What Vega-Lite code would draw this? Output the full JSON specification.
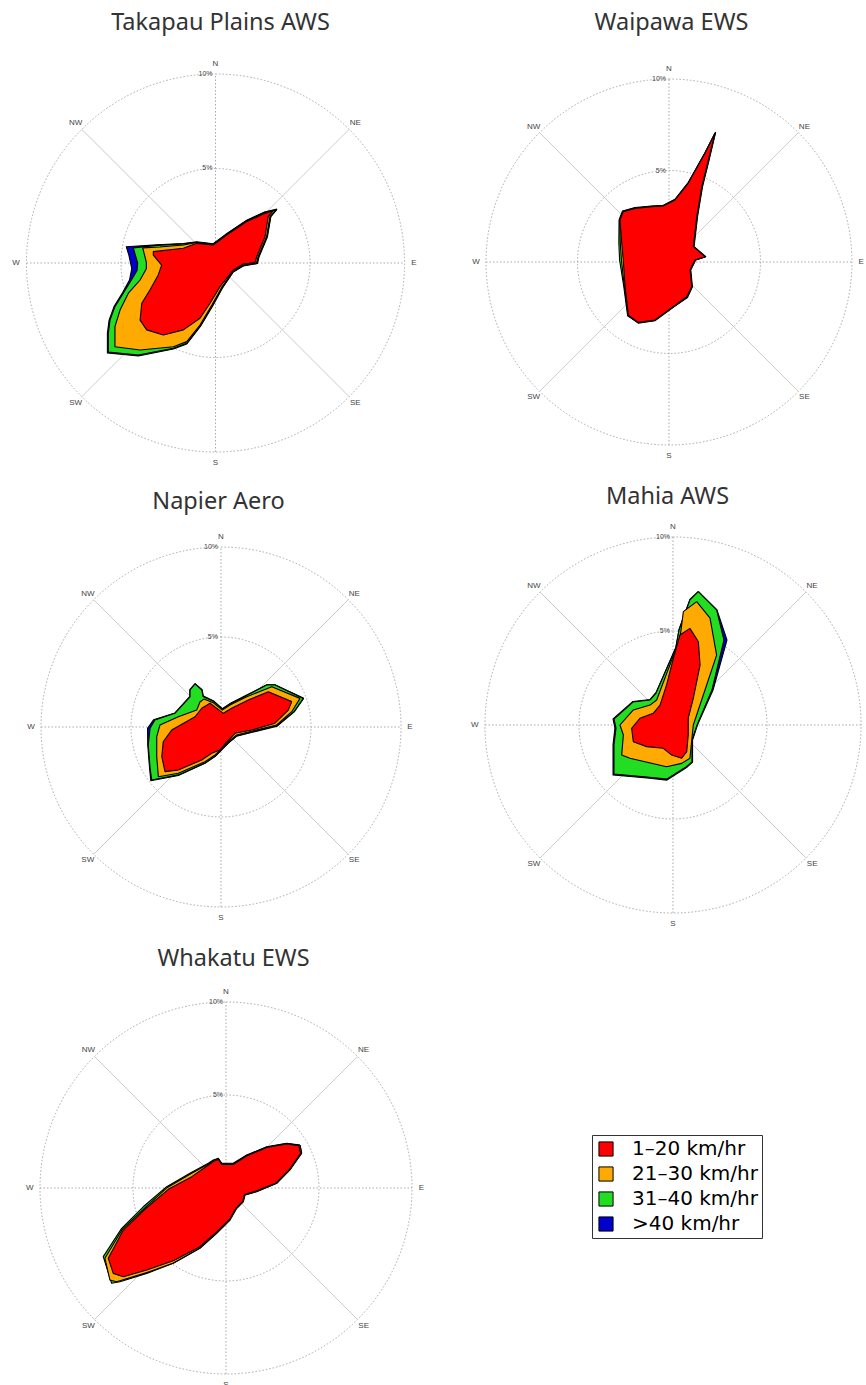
{
"$schema": "https://vega.github.io/schema/vega-lite/v6.json",
"padding": 0,
"background": "white",
"config": {
  "view": {"stroke": null},
  "title": {"font": "Noto Sans", "fontSize": 23.5, "fontWeight": "normal", "color": "#333333", "anchor": "middle", "frame": "group"},
  "legend": {"orient": "none", "legendX": 592, "legendY": 1135, "title": null, "symbolType": "square", "symbolSize": 200, "symbolStrokeColor": "black", "symbolStrokeWidth": 1, "symbolOpacity": 1, "labelFont": "DejaVu Sans", "labelFontSize": 20, "labelColor": "black", "strokeColor": "#333333", "fillColor": "white", "padding": 4, "rowPadding": 5, "labelOffset": 16}
},
"datasets": {
  "ring": [{"x": 0, "y": 0}],
  "axes": [{"x": -10, "y": 0, "x2": 10, "y2": 0}, {"x": 0, "y": -10, "x2": 0, "y2": 10}],
  "diag": [{"x": -7.071, "y": -7.071, "x2": 7.071, "y2": 7.071}, {"x": -7.071, "y": 7.071, "x2": 7.071, "y2": -7.071}],
  "dirs": [{"label": "N", "x": 0, "y": 10.55}, {"label": "NE", "x": 7.4, "y": 7.4}, {"label": "E", "x": 10.5, "y": 0}, {"label": "SE", "x": 7.4, "y": -7.4}, {"label": "S", "x": 0, "y": -10.6}, {"label": "SW", "x": -7.4, "y": -7.4}, {"label": "W", "x": -10.55, "y": 0}, {"label": "NW", "x": -7.4, "y": 7.4}],
  "pcts": [{"label": "10%", "x": 0, "y": 10}, {"label": "5%", "x": 0, "y": 5}],
  "roses": [
{"st":"T","s":">40 km/hr","i":0,"x":3.26,"y":2.85},{"st":"T","s":">40 km/hr","i":1,"x":2.93,"y":2.45},{"st":"T","s":">40 km/hr","i":2,"x":2.75,"y":1.39},{"st":"T","s":">40 km/hr","i":3,"x":2.30,"y":0.32},{"st":"T","s":">40 km/hr","i":4,"x":2.22,"y":-0.03},{"st":"T","s":">40 km/hr","i":5,"x":1.47,"y":-0.16},{"st":"T","s":">40 km/hr","i":6,"x":0.94,"y":-0.48},{"st":"T","s":">40 km/hr","i":7,"x":0.37,"y":-1.32},{"st":"T","s":">40 km/hr","i":8,"x":-0.15,"y":-2.27},{"st":"T","s":">40 km/hr","i":9,"x":-0.79,"y":-3.34},{"st":"T","s":">40 km/hr","i":10,"x":-1.52,"y":-4.28},{"st":"T","s":">40 km/hr","i":11,"x":-2.23,"y":-4.55},{"st":"T","s":">40 km/hr","i":12,"x":-4.08,"y":-4.92},{"st":"T","s":">40 km/hr","i":13,"x":-5.72,"y":-4.76},{"st":"T","s":">40 km/hr","i":14,"x":-5.72,"y":-3.72},{"st":"T","s":">40 km/hr","i":15,"x":-5.63,"y":-3.02},{"st":"T","s":">40 km/hr","i":16,"x":-5.37,"y":-2.31},{"st":"T","s":">40 km/hr","i":17,"x":-4.92,"y":-1.58},{"st":"T","s":">40 km/hr","i":18,"x":-4.55,"y":-0.90},{"st":"T","s":">40 km/hr","i":19,"x":-4.43,"y":-0.30},{"st":"T","s":">40 km/hr","i":20,"x":-4.58,"y":0.40},{"st":"T","s":">40 km/hr","i":21,"x":-4.72,"y":0.86},{"st":"T","s":">40 km/hr","i":22,"x":-3.11,"y":0.96},{"st":"T","s":">40 km/hr","i":23,"x":-1.70,"y":1.03},{"st":"T","s":">40 km/hr","i":24,"x":-0.99,"y":1.12},{"st":"T","s":">40 km/hr","i":25,"x":-0.12,"y":1.02},{"st":"T","s":">40 km/hr","i":26,"x":0.59,"y":1.55},{"st":"T","s":">40 km/hr","i":27,"x":1.65,"y":2.26},{"st":"T","s":">40 km/hr","i":28,"x":2.60,"y":2.70},{"st":"T","s":">40 km/hr","i":29,"x":3.26,"y":2.85},
{"st":"T","s":"31–40 km/hr","i":0,"x":3.24,"y":2.83},{"st":"T","s":"31–40 km/hr","i":1,"x":2.91,"y":2.45},{"st":"T","s":"31–40 km/hr","i":2,"x":2.73,"y":1.39},{"st":"T","s":"31–40 km/hr","i":3,"x":2.28,"y":0.32},{"st":"T","s":"31–40 km/hr","i":4,"x":2.20,"y":-0.02},{"st":"T","s":"31–40 km/hr","i":5,"x":1.47,"y":-0.14},{"st":"T","s":"31–40 km/hr","i":6,"x":0.94,"y":-0.46},{"st":"T","s":"31–40 km/hr","i":7,"x":0.36,"y":-1.30},{"st":"T","s":"31–40 km/hr","i":8,"x":-0.16,"y":-2.25},{"st":"T","s":"31–40 km/hr","i":9,"x":-0.80,"y":-3.32},{"st":"T","s":"31–40 km/hr","i":10,"x":-1.52,"y":-4.25},{"st":"T","s":"31–40 km/hr","i":11,"x":-2.23,"y":-4.51},{"st":"T","s":"31–40 km/hr","i":12,"x":-4.08,"y":-4.87},{"st":"T","s":"31–40 km/hr","i":13,"x":-5.67,"y":-4.71},{"st":"T","s":"31–40 km/hr","i":14,"x":-5.67,"y":-3.72},{"st":"T","s":"31–40 km/hr","i":15,"x":-5.58,"y":-3.02},{"st":"T","s":"31–40 km/hr","i":16,"x":-5.32,"y":-2.31},{"st":"T","s":"31–40 km/hr","i":17,"x":-4.88,"y":-1.60},{"st":"T","s":"31–40 km/hr","i":18,"x":-4.45,"y":-0.90},{"st":"T","s":"31–40 km/hr","i":19,"x":-4.15,"y":-0.40},{"st":"T","s":"31–40 km/hr","i":20,"x":-4.12,"y":0.00},{"st":"T","s":"31–40 km/hr","i":21,"x":-4.35,"y":0.80},{"st":"T","s":"31–40 km/hr","i":22,"x":-3.11,"y":0.93},{"st":"T","s":"31–40 km/hr","i":23,"x":-1.70,"y":1.01},{"st":"T","s":"31–40 km/hr","i":24,"x":-0.99,"y":1.10},{"st":"T","s":"31–40 km/hr","i":25,"x":-0.12,"y":1.00},{"st":"T","s":"31–40 km/hr","i":26,"x":0.59,"y":1.53},{"st":"T","s":"31–40 km/hr","i":27,"x":1.65,"y":2.24},{"st":"T","s":"31–40 km/hr","i":28,"x":2.59,"y":2.68},{"st":"T","s":"31–40 km/hr","i":29,"x":3.24,"y":2.83},
{"st":"T","s":"21–30 km/hr","i":0,"x":3.20,"y":2.80},{"st":"T","s":"21–30 km/hr","i":1,"x":2.88,"y":2.45},{"st":"T","s":"21–30 km/hr","i":2,"x":2.70,"y":1.39},{"st":"T","s":"21–30 km/hr","i":3,"x":2.25,"y":0.32},{"st":"T","s":"21–30 km/hr","i":4,"x":2.17,"y":0.00},{"st":"T","s":"21–30 km/hr","i":5,"x":1.47,"y":-0.11},{"st":"T","s":"21–30 km/hr","i":6,"x":0.94,"y":-0.42},{"st":"T","s":"21–30 km/hr","i":7,"x":0.34,"y":-1.27},{"st":"T","s":"21–30 km/hr","i":8,"x":-0.19,"y":-2.22},{"st":"T","s":"21–30 km/hr","i":9,"x":-0.82,"y":-3.28},{"st":"T","s":"21–30 km/hr","i":10,"x":-1.52,"y":-4.16},{"st":"T","s":"21–30 km/hr","i":11,"x":-2.23,"y":-4.43},{"st":"T","s":"21–30 km/hr","i":12,"x":-3.99,"y":-4.60},{"st":"T","s":"21–30 km/hr","i":13,"x":-5.32,"y":-4.43},{"st":"T","s":"21–30 km/hr","i":14,"x":-5.32,"y":-3.37},{"st":"T","s":"21–30 km/hr","i":15,"x":-5.05,"y":-2.49},{"st":"T","s":"21–30 km/hr","i":16,"x":-4.61,"y":-1.60},{"st":"T","s":"21–30 km/hr","i":17,"x":-3.99,"y":-0.90},{"st":"T","s":"21–30 km/hr","i":18,"x":-3.66,"y":-0.30},{"st":"T","s":"21–30 km/hr","i":19,"x":-3.66,"y":0.05},{"st":"T","s":"21–30 km/hr","i":20,"x":-3.85,"y":0.80},{"st":"T","s":"21–30 km/hr","i":21,"x":-2.94,"y":0.85},{"st":"T","s":"21–30 km/hr","i":22,"x":-1.70,"y":0.95},{"st":"T","s":"21–30 km/hr","i":23,"x":-0.99,"y":1.08},{"st":"T","s":"21–30 km/hr","i":24,"x":-0.12,"y":0.98},{"st":"T","s":"21–30 km/hr","i":25,"x":0.59,"y":1.51},{"st":"T","s":"21–30 km/hr","i":26,"x":1.65,"y":2.22},{"st":"T","s":"21–30 km/hr","i":27,"x":2.57,"y":2.65},{"st":"T","s":"21–30 km/hr","i":28,"x":3.20,"y":2.80},
{"st":"T","s":"1–20 km/hr","i":0,"x":3.06,"y":2.77},{"st":"T","s":"1–20 km/hr","i":1,"x":2.79,"y":2.45},{"st":"T","s":"1–20 km/hr","i":2,"x":2.62,"y":1.39},{"st":"T","s":"1–20 km/hr","i":3,"x":2.18,"y":0.33},{"st":"T","s":"1–20 km/hr","i":4,"x":2.09,"y":0.02},{"st":"T","s":"1–20 km/hr","i":5,"x":1.47,"y":-0.05},{"st":"T","s":"1–20 km/hr","i":6,"x":0.94,"y":-0.37},{"st":"T","s":"1–20 km/hr","i":7,"x":0.24,"y":-1.25},{"st":"T","s":"1–20 km/hr","i":8,"x":-0.29,"y":-2.13},{"st":"T","s":"1–20 km/hr","i":9,"x":-0.82,"y":-2.92},{"st":"T","s":"1–20 km/hr","i":10,"x":-1.70,"y":-3.54},{"st":"T","s":"1–20 km/hr","i":11,"x":-2.76,"y":-3.81},{"st":"T","s":"1–20 km/hr","i":12,"x":-3.64,"y":-3.54},{"st":"T","s":"1–20 km/hr","i":13,"x":-3.99,"y":-3.02},{"st":"T","s":"1–20 km/hr","i":14,"x":-3.90,"y":-2.13},{"st":"T","s":"1–20 km/hr","i":15,"x":-3.47,"y":-1.43},{"st":"T","s":"1–20 km/hr","i":16,"x":-3.03,"y":-0.63},{"st":"T","s":"1–20 km/hr","i":17,"x":-2.85,"y":-0.11},{"st":"T","s":"1–20 km/hr","i":18,"x":-3.29,"y":0.42},{"st":"T","s":"1–20 km/hr","i":19,"x":-3.29,"y":0.60},{"st":"T","s":"1–20 km/hr","i":20,"x":-1.70,"y":0.78},{"st":"T","s":"1–20 km/hr","i":21,"x":-0.99,"y":1.04},{"st":"T","s":"1–20 km/hr","i":22,"x":-0.12,"y":0.95},{"st":"T","s":"1–20 km/hr","i":23,"x":0.59,"y":1.48},{"st":"T","s":"1–20 km/hr","i":24,"x":1.65,"y":2.19},{"st":"T","s":"1–20 km/hr","i":25,"x":2.53,"y":2.59},{"st":"T","s":"1–20 km/hr","i":26,"x":3.06,"y":2.77},

{"st":"W","s":"31–40 km/hr","i":0,"x":2.55,"y":7.10},{"st":"W","s":"31–40 km/hr","i":1,"x":2.19,"y":5.57},{"st":"W","s":"31–40 km/hr","i":2,"x":1.83,"y":4.11},{"st":"W","s":"31–40 km/hr","i":3,"x":1.56,"y":2.48},{"st":"W","s":"31–40 km/hr","i":4,"x":1.37,"y":0.84},{"st":"W","s":"31–40 km/hr","i":5,"x":2.01,"y":0.29},{"st":"W","s":"31–40 km/hr","i":6,"x":1.46,"y":0.11},{"st":"W","s":"31–40 km/hr","i":7,"x":1.19,"y":-0.44},{"st":"W","s":"31–40 km/hr","i":8,"x":1.28,"y":-1.35},{"st":"W","s":"31–40 km/hr","i":9,"x":1.01,"y":-1.94},{"st":"W","s":"31–40 km/hr","i":10,"x":0.23,"y":-2.48},{"st":"W","s":"31–40 km/hr","i":11,"x":-0.77,"y":-3.21},{"st":"W","s":"31–40 km/hr","i":12,"x":-1.68,"y":-3.34},{"st":"W","s":"31–40 km/hr","i":13,"x":-2.26,"y":-2.94},{"st":"W","s":"31–40 km/hr","i":14,"x":-2.47,"y":-1.35},{"st":"W","s":"31–40 km/hr","i":15,"x":-2.70,"y":0.11},{"st":"W","s":"31–40 km/hr","i":16,"x":-2.74,"y":1.02},{"st":"W","s":"31–40 km/hr","i":17,"x":-2.73,"y":2.30},{"st":"W","s":"31–40 km/hr","i":18,"x":-2.54,"y":2.79},{"st":"W","s":"31–40 km/hr","i":19,"x":-1.86,"y":2.97},{"st":"W","s":"31–40 km/hr","i":20,"x":-0.95,"y":3.06},{"st":"W","s":"31–40 km/hr","i":21,"x":-0.31,"y":3.10},{"st":"W","s":"31–40 km/hr","i":22,"x":0.33,"y":3.43},{"st":"W","s":"31–40 km/hr","i":23,"x":1.05,"y":4.34},{"st":"W","s":"31–40 km/hr","i":24,"x":1.97,"y":5.98},{"st":"W","s":"31–40 km/hr","i":25,"x":2.55,"y":7.10},
{"st":"W","s":"21–30 km/hr","i":0,"x":2.53,"y":7.06},{"st":"W","s":"21–30 km/hr","i":1,"x":2.17,"y":5.57},{"st":"W","s":"21–30 km/hr","i":2,"x":1.81,"y":4.11},{"st":"W","s":"21–30 km/hr","i":3,"x":1.54,"y":2.48},{"st":"W","s":"21–30 km/hr","i":4,"x":1.35,"y":0.84},{"st":"W","s":"21–30 km/hr","i":5,"x":1.99,"y":0.29},{"st":"W","s":"21–30 km/hr","i":6,"x":1.44,"y":0.11},{"st":"W","s":"21–30 km/hr","i":7,"x":1.17,"y":-0.44},{"st":"W","s":"21–30 km/hr","i":8,"x":1.26,"y":-1.35},{"st":"W","s":"21–30 km/hr","i":9,"x":0.99,"y":-1.92},{"st":"W","s":"21–30 km/hr","i":10,"x":0.23,"y":-2.46},{"st":"W","s":"21–30 km/hr","i":11,"x":-0.77,"y":-3.19},{"st":"W","s":"21–30 km/hr","i":12,"x":-1.68,"y":-3.32},{"st":"W","s":"21–30 km/hr","i":13,"x":-2.24,"y":-2.92},{"st":"W","s":"21–30 km/hr","i":14,"x":-2.44,"y":-1.35},{"st":"W","s":"21–30 km/hr","i":15,"x":-2.60,"y":0.11},{"st":"W","s":"21–30 km/hr","i":16,"x":-2.66,"y":1.02},{"st":"W","s":"21–30 km/hr","i":17,"x":-2.70,"y":2.30},{"st":"W","s":"21–30 km/hr","i":18,"x":-2.52,"y":2.77},{"st":"W","s":"21–30 km/hr","i":19,"x":-1.86,"y":2.95},{"st":"W","s":"21–30 km/hr","i":20,"x":-0.95,"y":3.04},{"st":"W","s":"21–30 km/hr","i":21,"x":-0.31,"y":3.08},{"st":"W","s":"21–30 km/hr","i":22,"x":0.33,"y":3.41},{"st":"W","s":"21–30 km/hr","i":23,"x":1.05,"y":4.32},{"st":"W","s":"21–30 km/hr","i":24,"x":1.97,"y":5.96},{"st":"W","s":"21–30 km/hr","i":25,"x":2.53,"y":7.06},
{"st":"W","s":"1–20 km/hr","i":0,"x":2.51,"y":7.03},{"st":"W","s":"1–20 km/hr","i":1,"x":2.15,"y":5.57},{"st":"W","s":"1–20 km/hr","i":2,"x":1.79,"y":4.11},{"st":"W","s":"1–20 km/hr","i":3,"x":1.52,"y":2.48},{"st":"W","s":"1–20 km/hr","i":4,"x":1.33,"y":0.84},{"st":"W","s":"1–20 km/hr","i":5,"x":1.97,"y":0.29},{"st":"W","s":"1–20 km/hr","i":6,"x":1.42,"y":0.11},{"st":"W","s":"1–20 km/hr","i":7,"x":1.15,"y":-0.44},{"st":"W","s":"1–20 km/hr","i":8,"x":1.24,"y":-1.35},{"st":"W","s":"1–20 km/hr","i":9,"x":0.97,"y":-1.90},{"st":"W","s":"1–20 km/hr","i":10,"x":0.23,"y":-2.44},{"st":"W","s":"1–20 km/hr","i":11,"x":-0.77,"y":-3.17},{"st":"W","s":"1–20 km/hr","i":12,"x":-1.68,"y":-3.30},{"st":"W","s":"1–20 km/hr","i":13,"x":-2.22,"y":-2.90},{"st":"W","s":"1–20 km/hr","i":14,"x":-2.40,"y":-1.35},{"st":"W","s":"1–20 km/hr","i":15,"x":-2.50,"y":0.11},{"st":"W","s":"1–20 km/hr","i":16,"x":-2.58,"y":1.02},{"st":"W","s":"1–20 km/hr","i":17,"x":-2.68,"y":2.30},{"st":"W","s":"1–20 km/hr","i":18,"x":-2.50,"y":2.75},{"st":"W","s":"1–20 km/hr","i":19,"x":-1.86,"y":2.93},{"st":"W","s":"1–20 km/hr","i":20,"x":-0.95,"y":3.02},{"st":"W","s":"1–20 km/hr","i":21,"x":-0.31,"y":3.06},{"st":"W","s":"1–20 km/hr","i":22,"x":0.33,"y":3.39},{"st":"W","s":"1–20 km/hr","i":23,"x":1.05,"y":4.30},{"st":"W","s":"1–20 km/hr","i":24,"x":1.97,"y":5.94},{"st":"W","s":"1–20 km/hr","i":25,"x":2.51,"y":7.03},

{"st":"N","s":">40 km/hr","i":0,"x":4.60,"y":1.60},{"st":"N","s":">40 km/hr","i":1,"x":4.07,"y":0.84},{"st":"N","s":">40 km/hr","i":2,"x":3.12,"y":0.05},{"st":"N","s":">40 km/hr","i":3,"x":1.79,"y":-0.28},{"st":"N","s":">40 km/hr","i":4,"x":0.87,"y":-0.51},{"st":"N","s":">40 km/hr","i":5,"x":0.41,"y":-0.90},{"st":"N","s":">40 km/hr","i":6,"x":-0.33,"y":-1.64},{"st":"N","s":">40 km/hr","i":7,"x":-0.89,"y":-2.02},{"st":"N","s":">40 km/hr","i":8,"x":-2.37,"y":-2.69},{"st":"N","s":">40 km/hr","i":9,"x":-3.90,"y":-2.98},{"st":"N","s":">40 km/hr","i":10,"x":-3.97,"y":-2.28},{"st":"N","s":">40 km/hr","i":11,"x":-4.07,"y":-1.00},{"st":"N","s":">40 km/hr","i":12,"x":-4.08,"y":-0.07},{"st":"N","s":">40 km/hr","i":13,"x":-3.75,"y":0.40},{"st":"N","s":">40 km/hr","i":14,"x":-2.56,"y":0.78},{"st":"N","s":">40 km/hr","i":15,"x":-1.73,"y":1.70},{"st":"N","s":">40 km/hr","i":16,"x":-1.73,"y":2.08},{"st":"N","s":">40 km/hr","i":17,"x":-1.44,"y":2.41},{"st":"N","s":">40 km/hr","i":18,"x":-1.05,"y":2.08},{"st":"N","s":">40 km/hr","i":19,"x":-0.98,"y":1.72},{"st":"N","s":">40 km/hr","i":20,"x":-0.40,"y":1.44},{"st":"N","s":">40 km/hr","i":21,"x":0.07,"y":1.02},{"st":"N","s":">40 km/hr","i":22,"x":0.50,"y":1.30},{"st":"N","s":">40 km/hr","i":23,"x":1.40,"y":1.76},{"st":"N","s":">40 km/hr","i":24,"x":2.54,"y":2.35},{"st":"N","s":">40 km/hr","i":25,"x":3.00,"y":2.35},{"st":"N","s":">40 km/hr","i":26,"x":4.60,"y":1.60},
{"st":"N","s":"31–40 km/hr","i":0,"x":4.57,"y":1.59},{"st":"N","s":"31–40 km/hr","i":1,"x":4.05,"y":0.85},{"st":"N","s":"31–40 km/hr","i":2,"x":3.11,"y":0.07},{"st":"N","s":"31–40 km/hr","i":3,"x":1.79,"y":-0.26},{"st":"N","s":"31–40 km/hr","i":4,"x":0.87,"y":-0.49},{"st":"N","s":"31–40 km/hr","i":5,"x":0.41,"y":-0.88},{"st":"N","s":"31–40 km/hr","i":6,"x":-0.33,"y":-1.62},{"st":"N","s":"31–40 km/hr","i":7,"x":-0.89,"y":-2.00},{"st":"N","s":"31–40 km/hr","i":8,"x":-2.37,"y":-2.66},{"st":"N","s":"31–40 km/hr","i":9,"x":-3.85,"y":-2.94},{"st":"N","s":"31–40 km/hr","i":10,"x":-3.94,"y":-2.28},{"st":"N","s":"31–40 km/hr","i":11,"x":-4.04,"y":-1.00},{"st":"N","s":"31–40 km/hr","i":12,"x":-3.94,"y":-0.07},{"st":"N","s":"31–40 km/hr","i":13,"x":-3.67,"y":0.39},{"st":"N","s":"31–40 km/hr","i":14,"x":-2.56,"y":0.76},{"st":"N","s":"31–40 km/hr","i":15,"x":-1.72,"y":1.68},{"st":"N","s":"31–40 km/hr","i":16,"x":-1.72,"y":2.06},{"st":"N","s":"31–40 km/hr","i":17,"x":-1.44,"y":2.39},{"st":"N","s":"31–40 km/hr","i":18,"x":-1.07,"y":2.06},{"st":"N","s":"31–40 km/hr","i":19,"x":-1.00,"y":1.70},{"st":"N","s":"31–40 km/hr","i":20,"x":-0.40,"y":1.42},{"st":"N","s":"31–40 km/hr","i":21,"x":0.07,"y":1.00},{"st":"N","s":"31–40 km/hr","i":22,"x":0.50,"y":1.28},{"st":"N","s":"31–40 km/hr","i":23,"x":1.40,"y":1.74},{"st":"N","s":"31–40 km/hr","i":24,"x":2.54,"y":2.33},{"st":"N","s":"31–40 km/hr","i":25,"x":3.00,"y":2.33},{"st":"N","s":"31–40 km/hr","i":26,"x":4.57,"y":1.59},
{"st":"N","s":"21–30 km/hr","i":0,"x":4.39,"y":1.59},{"st":"N","s":"21–30 km/hr","i":1,"x":3.93,"y":0.85},{"st":"N","s":"21–30 km/hr","i":2,"x":3.09,"y":0.11},{"st":"N","s":"21–30 km/hr","i":3,"x":1.79,"y":-0.21},{"st":"N","s":"21–30 km/hr","i":4,"x":0.87,"y":-0.44},{"st":"N","s":"21–30 km/hr","i":5,"x":0.41,"y":-0.82},{"st":"N","s":"21–30 km/hr","i":6,"x":-0.33,"y":-1.56},{"st":"N","s":"21–30 km/hr","i":7,"x":-0.89,"y":-1.93},{"st":"N","s":"21–30 km/hr","i":8,"x":-2.37,"y":-2.57},{"st":"N","s":"21–30 km/hr","i":9,"x":-3.48,"y":-2.76},{"st":"N","s":"21–30 km/hr","i":10,"x":-3.57,"y":-1.65},{"st":"N","s":"21–30 km/hr","i":11,"x":-3.57,"y":-0.54},{"st":"N","s":"21–30 km/hr","i":12,"x":-3.39,"y":0.11},{"st":"N","s":"21–30 km/hr","i":13,"x":-2.37,"y":0.57},{"st":"N","s":"21–30 km/hr","i":14,"x":-1.35,"y":0.94},{"st":"N","s":"21–30 km/hr","i":15,"x":-1.17,"y":1.39},{"st":"N","s":"21–30 km/hr","i":16,"x":-0.95,"y":1.55},{"st":"N","s":"21–30 km/hr","i":17,"x":-0.40,"y":1.33},{"st":"N","s":"21–30 km/hr","i":18,"x":0.07,"y":0.94},{"st":"N","s":"21–30 km/hr","i":19,"x":0.50,"y":1.22},{"st":"N","s":"21–30 km/hr","i":20,"x":1.43,"y":1.68},{"st":"N","s":"21–30 km/hr","i":21,"x":2.82,"y":2.24},{"st":"N","s":"21–30 km/hr","i":22,"x":4.39,"y":1.59},
{"st":"N","s":"1–20 km/hr","i":0,"x":3.93,"y":1.41},{"st":"N","s":"1–20 km/hr","i":1,"x":3.74,"y":0.94},{"st":"N","s":"1–20 km/hr","i":2,"x":3.00,"y":0.21},{"st":"N","s":"1–20 km/hr","i":3,"x":1.71,"y":-0.17},{"st":"N","s":"1–20 km/hr","i":4,"x":0.78,"y":-0.35},{"st":"N","s":"1–20 km/hr","i":5,"x":0.32,"y":-0.82},{"st":"N","s":"1–20 km/hr","i":6,"x":-0.06,"y":-1.28},{"st":"N","s":"1–20 km/hr","i":7,"x":-0.52,"y":-1.46},{"st":"N","s":"1–20 km/hr","i":8,"x":-1.07,"y":-1.83},{"st":"N","s":"1–20 km/hr","i":9,"x":-2.37,"y":-2.39},{"st":"N","s":"1–20 km/hr","i":10,"x":-3.11,"y":-2.48},{"st":"N","s":"1–20 km/hr","i":11,"x":-3.29,"y":-1.65},{"st":"N","s":"1–20 km/hr","i":12,"x":-3.21,"y":-0.82},{"st":"N","s":"1–20 km/hr","i":13,"x":-2.74,"y":-0.17},{"st":"N","s":"1–20 km/hr","i":14,"x":-1.44,"y":0.57},{"st":"N","s":"1–20 km/hr","i":15,"x":-1.07,"y":1.04},{"st":"N","s":"1–20 km/hr","i":16,"x":-0.61,"y":1.32},{"st":"N","s":"1–20 km/hr","i":17,"x":0.13,"y":0.76},{"st":"N","s":"1–20 km/hr","i":18,"x":0.59,"y":1.04},{"st":"N","s":"1–20 km/hr","i":19,"x":1.52,"y":1.50},{"st":"N","s":"1–20 km/hr","i":20,"x":2.63,"y":1.96},{"st":"N","s":"1–20 km/hr","i":21,"x":3.93,"y":1.41},

{"st":"M","s":">40 km/hr","i":0,"x":1.35,"y":7.10},{"st":"M","s":">40 km/hr","i":1,"x":2.34,"y":6.12},{"st":"M","s":">40 km/hr","i":2,"x":2.87,"y":4.52},{"st":"M","s":">40 km/hr","i":3,"x":2.13,"y":1.86},{"st":"M","s":">40 km/hr","i":4,"x":1.30,"y":0.00},{"st":"M","s":">40 km/hr","i":5,"x":1.04,"y":-0.80},{"st":"M","s":">40 km/hr","i":6,"x":1.04,"y":-1.97},{"st":"M","s":">40 km/hr","i":7,"x":0.72,"y":-2.26},{"st":"M","s":">40 km/hr","i":8,"x":-0.32,"y":-2.93},{"st":"M","s":">40 km/hr","i":9,"x":-1.38,"y":-2.82},{"st":"M","s":">40 km/hr","i":10,"x":-3.19,"y":-2.66},{"st":"M","s":">40 km/hr","i":11,"x":-3.19,"y":-1.06},{"st":"M","s":">40 km/hr","i":12,"x":-3.09,"y":-0.16},{"st":"M","s":">40 km/hr","i":13,"x":-3.19,"y":0.32},{"st":"M","s":">40 km/hr","i":14,"x":-2.13,"y":1.25},{"st":"M","s":">40 km/hr","i":15,"x":-1.22,"y":1.36},{"st":"M","s":">40 km/hr","i":16,"x":-0.90,"y":1.73},{"st":"M","s":">40 km/hr","i":17,"x":0.15,"y":4.12},{"st":"M","s":">40 km/hr","i":18,"x":0.32,"y":5.08},{"st":"M","s":">40 km/hr","i":19,"x":0.90,"y":6.68},{"st":"M","s":">40 km/hr","i":20,"x":1.35,"y":7.10},
{"st":"M","s":"31–40 km/hr","i":0,"x":1.35,"y":7.09},{"st":"M","s":"31–40 km/hr","i":1,"x":2.32,"y":6.12},{"st":"M","s":"31–40 km/hr","i":2,"x":2.71,"y":4.52},{"st":"M","s":"31–40 km/hr","i":3,"x":2.07,"y":1.86},{"st":"M","s":"31–40 km/hr","i":4,"x":1.28,"y":0.00},{"st":"M","s":"31–40 km/hr","i":5,"x":1.01,"y":-0.80},{"st":"M","s":"31–40 km/hr","i":6,"x":1.01,"y":-1.97},{"st":"M","s":"31–40 km/hr","i":7,"x":0.69,"y":-2.23},{"st":"M","s":"31–40 km/hr","i":8,"x":-0.32,"y":-2.87},{"st":"M","s":"31–40 km/hr","i":9,"x":-1.38,"y":-2.77},{"st":"M","s":"31–40 km/hr","i":10,"x":-3.14,"y":-2.61},{"st":"M","s":"31–40 km/hr","i":11,"x":-3.14,"y":-1.06},{"st":"M","s":"31–40 km/hr","i":12,"x":-3.03,"y":-0.16},{"st":"M","s":"31–40 km/hr","i":13,"x":-3.14,"y":0.32},{"st":"M","s":"31–40 km/hr","i":14,"x":-2.13,"y":1.22},{"st":"M","s":"31–40 km/hr","i":15,"x":-1.22,"y":1.33},{"st":"M","s":"31–40 km/hr","i":16,"x":-0.90,"y":1.70},{"st":"M","s":"31–40 km/hr","i":17,"x":0.15,"y":4.10},{"st":"M","s":"31–40 km/hr","i":18,"x":0.32,"y":5.05},{"st":"M","s":"31–40 km/hr","i":19,"x":0.90,"y":6.65},{"st":"M","s":"31–40 km/hr","i":20,"x":1.35,"y":7.09},
{"st":"M","s":"21–30 km/hr","i":0,"x":1.26,"y":6.56},{"st":"M","s":"21–30 km/hr","i":1,"x":1.97,"y":5.68},{"st":"M","s":"21–30 km/hr","i":2,"x":2.32,"y":3.72},{"st":"M","s":"21–30 km/hr","i":3,"x":1.79,"y":2.13},{"st":"M","s":"21–30 km/hr","i":4,"x":1.08,"y":0.00},{"st":"M","s":"21–30 km/hr","i":5,"x":0.90,"y":-1.77},{"st":"M","s":"21–30 km/hr","i":6,"x":0.46,"y":-2.04},{"st":"M","s":"21–30 km/hr","i":7,"x":-0.34,"y":-2.22},{"st":"M","s":"21–30 km/hr","i":8,"x":-2.29,"y":-1.77},{"st":"M","s":"21–30 km/hr","i":9,"x":-2.73,"y":-1.60},{"st":"M","s":"21–30 km/hr","i":10,"x":-2.64,"y":-0.53},{"st":"M","s":"21–30 km/hr","i":11,"x":-2.82,"y":0.00},{"st":"M","s":"21–30 km/hr","i":12,"x":-2.11,"y":0.80},{"st":"M","s":"21–30 km/hr","i":13,"x":-1.22,"y":1.06},{"st":"M","s":"21–30 km/hr","i":14,"x":-0.87,"y":1.33},{"st":"M","s":"21–30 km/hr","i":15,"x":0.37,"y":4.61},{"st":"M","s":"21–30 km/hr","i":16,"x":0.55,"y":6.03},{"st":"M","s":"21–30 km/hr","i":17,"x":1.26,"y":6.56},
{"st":"M","s":"1–20 km/hr","i":0,"x":0.90,"y":5.14},{"st":"M","s":"1–20 km/hr","i":1,"x":1.35,"y":4.43},{"st":"M","s":"1–20 km/hr","i":2,"x":1.44,"y":3.19},{"st":"M","s":"1–20 km/hr","i":3,"x":1.08,"y":1.42},{"st":"M","s":"1–20 km/hr","i":4,"x":0.81,"y":0.36},{"st":"M","s":"1–20 km/hr","i":5,"x":0.81,"y":-0.53},{"st":"M","s":"1–20 km/hr","i":6,"x":0.73,"y":-1.42},{"st":"M","s":"1–20 km/hr","i":7,"x":0.46,"y":-1.77},{"st":"M","s":"1–20 km/hr","i":8,"x":-0.07,"y":-1.60},{"st":"M","s":"1–20 km/hr","i":9,"x":-0.52,"y":-1.24},{"st":"M","s":"1–20 km/hr","i":10,"x":-1.40,"y":-1.15},{"st":"M","s":"1–20 km/hr","i":11,"x":-2.11,"y":-0.89},{"st":"M","s":"1–20 km/hr","i":12,"x":-2.20,"y":-0.18},{"st":"M","s":"1–20 km/hr","i":13,"x":-1.76,"y":0.36},{"st":"M","s":"1–20 km/hr","i":14,"x":-1.05,"y":0.62},{"st":"M","s":"1–20 km/hr","i":15,"x":-0.69,"y":1.06},{"st":"M","s":"1–20 km/hr","i":16,"x":-0.34,"y":2.13},{"st":"M","s":"1–20 km/hr","i":17,"x":0.02,"y":3.55},{"st":"M","s":"1–20 km/hr","i":18,"x":0.37,"y":4.79},{"st":"M","s":"1–20 km/hr","i":19,"x":0.90,"y":5.14},

{"st":"K","s":"31–40 km/hr","i":0,"x":3.98,"y":2.31},{"st":"K","s":"31–40 km/hr","i":1,"x":4.07,"y":1.87},{"st":"K","s":"31–40 km/hr","i":2,"x":3.44,"y":0.97},{"st":"K","s":"31–40 km/hr","i":3,"x":2.73,"y":0.25},{"st":"K","s":"31–40 km/hr","i":4,"x":1.65,"y":-0.20},{"st":"K","s":"31–40 km/hr","i":5,"x":1.02,"y":-0.38},{"st":"K","s":"31–40 km/hr","i":6,"x":0.93,"y":-0.74},{"st":"K","s":"31–40 km/hr","i":7,"x":0.58,"y":-1.09},{"st":"K","s":"31–40 km/hr","i":8,"x":0.22,"y":-1.72},{"st":"K","s":"31–40 km/hr","i":9,"x":-0.50,"y":-2.44},{"st":"K","s":"31–40 km/hr","i":10,"x":-1.40,"y":-3.24},{"st":"K","s":"31–40 km/hr","i":11,"x":-2.83,"y":-4.05},{"st":"K","s":"31–40 km/hr","i":12,"x":-4.26,"y":-4.59},{"st":"K","s":"31–40 km/hr","i":13,"x":-5.70,"y":-5.04},{"st":"K","s":"31–40 km/hr","i":14,"x":-6.15,"y":-5.12},{"st":"K","s":"31–40 km/hr","i":15,"x":-6.60,"y":-3.69},{"st":"K","s":"31–40 km/hr","i":16,"x":-5.61,"y":-2.17},{"st":"K","s":"31–40 km/hr","i":17,"x":-4.45,"y":-1.01},{"st":"K","s":"31–40 km/hr","i":18,"x":-3.19,"y":0.07},{"st":"K","s":"31–40 km/hr","i":19,"x":-1.94,"y":0.79},{"st":"K","s":"31–40 km/hr","i":20,"x":-0.95,"y":1.33},{"st":"K","s":"31–40 km/hr","i":21,"x":-0.68,"y":1.51},{"st":"K","s":"31–40 km/hr","i":22,"x":-0.41,"y":1.60},{"st":"K","s":"31–40 km/hr","i":23,"x":-0.23,"y":1.33},{"st":"K","s":"31–40 km/hr","i":24,"x":0.39,"y":1.33},{"st":"K","s":"31–40 km/hr","i":25,"x":1.11,"y":1.77},{"st":"K","s":"31–40 km/hr","i":26,"x":2.19,"y":2.22},{"st":"K","s":"31–40 km/hr","i":27,"x":3.26,"y":2.40},{"st":"K","s":"31–40 km/hr","i":28,"x":3.98,"y":2.31},
{"st":"K","s":"21–30 km/hr","i":0,"x":3.98,"y":2.30},{"st":"K","s":"21–30 km/hr","i":1,"x":4.06,"y":1.87},{"st":"K","s":"21–30 km/hr","i":2,"x":3.42,"y":0.97},{"st":"K","s":"21–30 km/hr","i":3,"x":2.72,"y":0.26},{"st":"K","s":"21–30 km/hr","i":4,"x":1.64,"y":-0.19},{"st":"K","s":"21–30 km/hr","i":5,"x":1.01,"y":-0.37},{"st":"K","s":"21–30 km/hr","i":6,"x":0.92,"y":-0.73},{"st":"K","s":"21–30 km/hr","i":7,"x":0.56,"y":-1.09},{"st":"K","s":"21–30 km/hr","i":8,"x":0.20,"y":-1.71},{"st":"K","s":"21–30 km/hr","i":9,"x":-0.51,"y":-2.42},{"st":"K","s":"21–30 km/hr","i":10,"x":-1.40,"y":-3.23},{"st":"K","s":"21–30 km/hr","i":11,"x":-2.83,"y":-4.03},{"st":"K","s":"21–30 km/hr","i":12,"x":-4.26,"y":-4.55},{"st":"K","s":"21–30 km/hr","i":13,"x":-5.88,"y":-5.04},{"st":"K","s":"21–30 km/hr","i":14,"x":-6.24,"y":-4.95},{"st":"K","s":"21–30 km/hr","i":15,"x":-6.51,"y":-3.78},{"st":"K","s":"21–30 km/hr","i":16,"x":-5.56,"y":-2.20},{"st":"K","s":"21–30 km/hr","i":17,"x":-4.35,"y":-1.06},{"st":"K","s":"21–30 km/hr","i":18,"x":-3.15,"y":0.03},{"st":"K","s":"21–30 km/hr","i":19,"x":-1.94,"y":0.74},{"st":"K","s":"21–30 km/hr","i":20,"x":-0.95,"y":1.29},{"st":"K","s":"21–30 km/hr","i":21,"x":-0.68,"y":1.48},{"st":"K","s":"21–30 km/hr","i":22,"x":-0.41,"y":1.57},{"st":"K","s":"21–30 km/hr","i":23,"x":-0.23,"y":1.30},{"st":"K","s":"21–30 km/hr","i":24,"x":0.39,"y":1.30},{"st":"K","s":"21–30 km/hr","i":25,"x":1.11,"y":1.75},{"st":"K","s":"21–30 km/hr","i":26,"x":2.19,"y":2.20},{"st":"K","s":"21–30 km/hr","i":27,"x":3.26,"y":2.39},{"st":"K","s":"21–30 km/hr","i":28,"x":3.98,"y":2.30},
{"st":"K","s":"1–20 km/hr","i":0,"x":3.92,"y":2.28},{"st":"K","s":"1–20 km/hr","i":1,"x":4.01,"y":1.87},{"st":"K","s":"1–20 km/hr","i":2,"x":3.39,"y":0.97},{"st":"K","s":"1–20 km/hr","i":3,"x":2.69,"y":0.27},{"st":"K","s":"1–20 km/hr","i":4,"x":1.61,"y":-0.16},{"st":"K","s":"1–20 km/hr","i":5,"x":0.99,"y":-0.35},{"st":"K","s":"1–20 km/hr","i":6,"x":0.91,"y":-0.70},{"st":"K","s":"1–20 km/hr","i":7,"x":0.54,"y":-1.08},{"st":"K","s":"1–20 km/hr","i":8,"x":0.19,"y":-1.69},{"st":"K","s":"1–20 km/hr","i":9,"x":-0.54,"y":-2.39},{"st":"K","s":"1–20 km/hr","i":10,"x":-1.40,"y":-3.16},{"st":"K","s":"1–20 km/hr","i":11,"x":-2.83,"y":-3.91},{"st":"K","s":"1–20 km/hr","i":12,"x":-4.26,"y":-4.41},{"st":"K","s":"1–20 km/hr","i":13,"x":-5.52,"y":-4.77},{"st":"K","s":"1–20 km/hr","i":14,"x":-6.06,"y":-4.59},{"st":"K","s":"1–20 km/hr","i":15,"x":-6.33,"y":-3.78},{"st":"K","s":"1–20 km/hr","i":16,"x":-5.52,"y":-2.26},{"st":"K","s":"1–20 km/hr","i":17,"x":-4.35,"y":-1.13},{"st":"K","s":"1–20 km/hr","i":18,"x":-3.10,"y":-0.07},{"st":"K","s":"1–20 km/hr","i":19,"x":-1.84,"y":0.61},{"st":"K","s":"1–20 km/hr","i":20,"x":-0.95,"y":1.24},{"st":"K","s":"1–20 km/hr","i":21,"x":-0.59,"y":1.47},{"st":"K","s":"1–20 km/hr","i":22,"x":-0.40,"y":1.53},{"st":"K","s":"1–20 km/hr","i":23,"x":-0.24,"y":1.26},{"st":"K","s":"1–20 km/hr","i":24,"x":0.39,"y":1.26},{"st":"K","s":"1–20 km/hr","i":25,"x":1.11,"y":1.72},{"st":"K","s":"1–20 km/hr","i":26,"x":2.19,"y":2.18},{"st":"K","s":"1–20 km/hr","i":27,"x":3.26,"y":2.37},{"st":"K","s":"1–20 km/hr","i":28,"x":3.92,"y":2.28}
  ]
},
"columns": 2,
"spacing": 0,
"align": "each",
"bounds": "flush",
"concat": [
  {"width": 433, "height": 478,
   "title": {"text": "Takapau Plains AWS", "dx": 4, "offset": -34},
   "encoding": {
     "x": {"field": "x", "type": "quantitative", "scale": {"domain": [-11.402, 11.508], "nice": false, "zero": false}, "axis": null},
     "y": {"field": "y", "type": "quantitative", "scale": {"domain": [-11.376, 13.915], "nice": false, "zero": false}, "axis": null}},
   "layer": [
     {"data": {"name": "ring"}, "mark": {"type": "arc", "theta": 0, "theta2": 6.2832, "radius": 189, "fill": "white", "fillOpacity": 0, "stroke": "#a8a8a8", "strokeWidth": 1, "strokeDash": [1.5, 2]}},
     {"data": {"name": "ring"}, "mark": {"type": "arc", "theta": 0, "theta2": 6.2832, "radius": 94.5, "fill": "white", "fillOpacity": 0, "stroke": "#a8a8a8", "strokeWidth": 1, "strokeDash": [1.5, 2]}},
     {"data": {"name": "axes"}, "mark": {"type": "rule", "stroke": "#a8a8a8", "strokeWidth": 1, "strokeDash": [1.5, 2]}, "encoding": {"x2": {"field": "x2"}, "y2": {"field": "y2"}}},
     {"data": {"name": "diag"}, "mark": {"type": "rule", "stroke": "#cccccc", "strokeWidth": 1}, "encoding": {"x2": {"field": "x2"}, "y2": {"field": "y2"}}},
     {"data": {"name": "roses"}, "transform": [{"filter": {"field": "st", "equal": "T"}}],
      "mark": {"type": "line", "stroke": "black", "strokeWidth": 1.1, "strokeJoin": "round"},
      "encoding": {"fill": {"field": "s", "type": "nominal", "scale": {"domain": ["1–20 km/hr", "21–30 km/hr", "31–40 km/hr", ">40 km/hr"], "range": ["#ff0000", "#ffaa00", "#22dd22", "#0000cc"]}, "legend": {"orient": "none", "legendX": 592, "legendY": 1135}},
                   "order": {"field": "i", "type": "quantitative"}}},
     {"data": {"name": "dirs"}, "mark": {"type": "text", "fontSize": 8, "fill": "#444444", "font": "Liberation Sans"}, "encoding": {"text": {"field": "label"}}},
     {"data": {"name": "pcts"}, "mark": {"type": "text", "fontSize": 7, "fill": "#444444", "font": "Liberation Sans", "align": "right", "dx": -3}, "encoding": {"text": {"field": "label"}}}
   ]},
  {"width": 433, "height": 478,
   "title": {"text": "Waipawa EWS", "dx": 22, "offset": -34},
   "encoding": {
     "x": {"field": "x", "type": "quantitative", "scale": {"domain": [-12.896, 10.765], "nice": false, "zero": false}, "axis": null},
     "y": {"field": "y", "type": "quantitative", "scale": {"domain": [-11.803, 14.317], "nice": false, "zero": false}, "axis": null}},
   "layer": [
     {"data": {"name": "ring"}, "mark": {"type": "arc", "theta": 0, "theta2": 6.2832, "radius": 183, "fill": "white", "fillOpacity": 0, "stroke": "#a8a8a8", "strokeWidth": 1, "strokeDash": [1.5, 2]}},
     {"data": {"name": "ring"}, "mark": {"type": "arc", "theta": 0, "theta2": 6.2832, "radius": 91.5, "fill": "white", "fillOpacity": 0, "stroke": "#a8a8a8", "strokeWidth": 1, "strokeDash": [1.5, 2]}},
     {"data": {"name": "axes"}, "mark": {"type": "rule", "stroke": "#a8a8a8", "strokeWidth": 1, "strokeDash": [1.5, 2]}, "encoding": {"x2": {"field": "x2"}, "y2": {"field": "y2"}}},
     {"data": {"name": "diag"}, "mark": {"type": "rule", "stroke": "#cccccc", "strokeWidth": 1}, "encoding": {"x2": {"field": "x2"}, "y2": {"field": "y2"}}},
     {"data": {"name": "roses"}, "transform": [{"filter": {"field": "st", "equal": "W"}}],
      "mark": {"type": "line", "stroke": "black", "strokeWidth": 1.1, "strokeJoin": "round"},
      "encoding": {"fill": {"field": "s", "type": "nominal"}, "order": {"field": "i", "type": "quantitative"}}},
     {"data": {"name": "dirs"}, "mark": {"type": "text", "fontSize": 8, "fill": "#444444", "font": "Liberation Sans"}, "encoding": {"text": {"field": "label"}}},
     {"data": {"name": "pcts"}, "mark": {"type": "text", "fontSize": 7, "fill": "#444444", "font": "Liberation Sans", "align": "right", "dx": -3}, "encoding": {"text": {"field": "label"}}}
   ]},
  {"width": 433, "height": 462,
   "title": {"text": "Napier Aero", "dx": 2, "offset": -35},
   "encoding": {
     "x": {"field": "x", "type": "quantitative", "scale": {"domain": [-12.278, 11.778], "nice": false, "zero": false}, "axis": null},
     "y": {"field": "y", "type": "quantitative", "scale": {"domain": [-11.833, 13.833], "nice": false, "zero": false}, "axis": null}},
   "layer": [
     {"data": {"name": "ring"}, "mark": {"type": "arc", "theta": 0, "theta2": 6.2832, "radius": 180, "fill": "white", "fillOpacity": 0, "stroke": "#a8a8a8", "strokeWidth": 1, "strokeDash": [1.5, 2]}},
     {"data": {"name": "ring"}, "mark": {"type": "arc", "theta": 0, "theta2": 6.2832, "radius": 90, "fill": "white", "fillOpacity": 0, "stroke": "#a8a8a8", "strokeWidth": 1, "strokeDash": [1.5, 2]}},
     {"data": {"name": "axes"}, "mark": {"type": "rule", "stroke": "#a8a8a8", "strokeWidth": 1, "strokeDash": [1.5, 2]}, "encoding": {"x2": {"field": "x2"}, "y2": {"field": "y2"}}},
     {"data": {"name": "diag"}, "mark": {"type": "rule", "stroke": "#cccccc", "strokeWidth": 1}, "encoding": {"x2": {"field": "x2"}, "y2": {"field": "y2"}}},
     {"data": {"name": "roses"}, "transform": [{"filter": {"field": "st", "equal": "N"}}],
      "mark": {"type": "line", "stroke": "black", "strokeWidth": 1.1, "strokeJoin": "round"},
      "encoding": {"fill": {"field": "s", "type": "nominal"}, "order": {"field": "i", "type": "quantitative"}}},
     {"data": {"name": "dirs"}, "mark": {"type": "text", "fontSize": 8, "fill": "#444444", "font": "Liberation Sans"}, "encoding": {"text": {"field": "label"}}},
     {"data": {"name": "pcts"}, "mark": {"type": "text", "fontSize": 7, "fill": "#444444", "font": "Liberation Sans", "align": "right", "dx": -3}, "encoding": {"text": {"field": "label"}}}
   ]},
  {"width": 433, "height": 462,
   "title": {"text": "Mahia AWS", "dx": 18, "offset": -30},
   "encoding": {
     "x": {"field": "x", "type": "quantitative", "scale": {"domain": [-12.766, 10.266], "nice": false, "zero": false}, "axis": null},
     "y": {"field": "y", "type": "quantitative", "scale": {"domain": [-11.436, 13.138], "nice": false, "zero": false}, "axis": null}},
   "layer": [
     {"data": {"name": "ring"}, "mark": {"type": "arc", "theta": 0, "theta2": 6.2832, "radius": 188, "fill": "white", "fillOpacity": 0, "stroke": "#a8a8a8", "strokeWidth": 1, "strokeDash": [1.5, 2]}},
     {"data": {"name": "ring"}, "mark": {"type": "arc", "theta": 0, "theta2": 6.2832, "radius": 94, "fill": "white", "fillOpacity": 0, "stroke": "#a8a8a8", "strokeWidth": 1, "strokeDash": [1.5, 2]}},
     {"data": {"name": "axes"}, "mark": {"type": "rule", "stroke": "#a8a8a8", "strokeWidth": 1, "strokeDash": [1.5, 2]}, "encoding": {"x2": {"field": "x2"}, "y2": {"field": "y2"}}},
     {"data": {"name": "diag"}, "mark": {"type": "rule", "stroke": "#cccccc", "strokeWidth": 1}, "encoding": {"x2": {"field": "x2"}, "y2": {"field": "y2"}}},
     {"data": {"name": "roses"}, "transform": [{"filter": {"field": "st", "equal": "M"}}],
      "mark": {"type": "line", "stroke": "black", "strokeWidth": 1.1, "strokeJoin": "round"},
      "encoding": {"fill": {"field": "s", "type": "nominal"}, "order": {"field": "i", "type": "quantitative"}}},
     {"data": {"name": "dirs"}, "mark": {"type": "text", "fontSize": 8, "fill": "#444444", "font": "Liberation Sans"}, "encoding": {"text": {"field": "label"}}},
     {"data": {"name": "pcts"}, "mark": {"type": "text", "fontSize": 7, "fill": "#444444", "font": "Liberation Sans", "align": "right", "dx": -3}, "encoding": {"text": {"field": "label"}}}
   ]},
  {"width": 433, "height": 445,
   "title": {"text": "Whakatu EWS", "dx": 17, "offset": -30},
   "encoding": {
     "x": {"field": "x", "type": "quantitative", "scale": {"domain": [-12.151, 11.129], "nice": false, "zero": false}, "axis": null},
     "y": {"field": "y", "type": "quantitative", "scale": {"domain": [-10.591, 13.333], "nice": false, "zero": false}, "axis": null}},
   "layer": [
     {"data": {"name": "ring"}, "mark": {"type": "arc", "theta": 0, "theta2": 6.2832, "radius": 186, "fill": "white", "fillOpacity": 0, "stroke": "#a8a8a8", "strokeWidth": 1, "strokeDash": [1.5, 2]}},
     {"data": {"name": "ring"}, "mark": {"type": "arc", "theta": 0, "theta2": 6.2832, "radius": 93, "fill": "white", "fillOpacity": 0, "stroke": "#a8a8a8", "strokeWidth": 1, "strokeDash": [1.5, 2]}},
     {"data": {"name": "axes"}, "mark": {"type": "rule", "stroke": "#a8a8a8", "strokeWidth": 1, "strokeDash": [1.5, 2]}, "encoding": {"x2": {"field": "x2"}, "y2": {"field": "y2"}}},
     {"data": {"name": "diag"}, "mark": {"type": "rule", "stroke": "#cccccc", "strokeWidth": 1}, "encoding": {"x2": {"field": "x2"}, "y2": {"field": "y2"}}},
     {"data": {"name": "roses"}, "transform": [{"filter": {"field": "st", "equal": "K"}}],
      "mark": {"type": "line", "stroke": "black", "strokeWidth": 1.1, "strokeJoin": "round"},
      "encoding": {"fill": {"field": "s", "type": "nominal"}, "order": {"field": "i", "type": "quantitative"}}},
     {"data": {"name": "dirs"}, "mark": {"type": "text", "fontSize": 8, "fill": "#444444", "font": "Liberation Sans"}, "encoding": {"text": {"field": "label"}}},
     {"data": {"name": "pcts"}, "mark": {"type": "text", "fontSize": 7, "fill": "#444444", "font": "Liberation Sans", "align": "right", "dx": -3}, "encoding": {"text": {"field": "label"}}}
   ]}
]
}
